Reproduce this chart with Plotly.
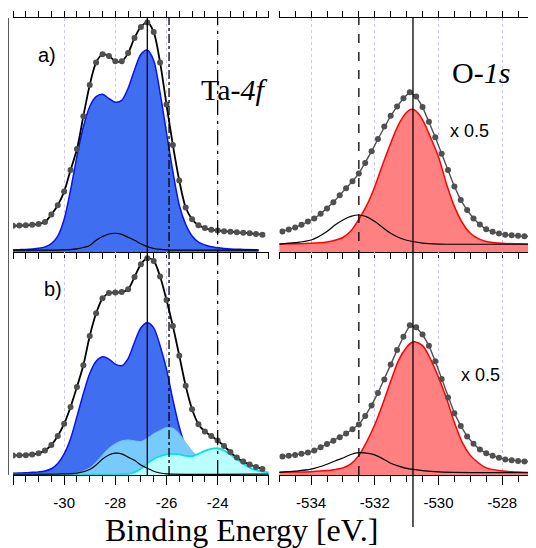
import plotly.graph_objects as go

# ---------------- data (intensities normalised) ----------------
# Ta-4f panel a)
ta_a_x = [-32.0, -31.75, -31.5, -31.25, -31.0, -30.75, -30.5, -30.25, -30.0, -29.75,
          -29.5, -29.25, -29.0, -28.75, -28.5, -28.25, -28.0, -27.75, -27.5, -27.25,
          -27.0, -26.75, -26.5, -26.25, -26.0, -25.75, -25.5, -25.25, -25.0, -24.75,
          -24.5, -24.25, -24.0, -23.75, -23.5, -23.25, -23.0, -22.75, -22.5, -22.25]
ta_a_data = [0.112, 0.113, 0.114, 0.116, 0.120, 0.128, 0.160, 0.200, 0.258, 0.350,
             0.440, 0.580, 0.714, 0.810, 0.845, 0.838, 0.815, 0.815, 0.850, 0.915,
             0.962, 0.981, 0.940, 0.810, 0.630, 0.457, 0.305, 0.190, 0.140, 0.114,
             0.102, 0.095, 0.092, 0.089, 0.087, 0.084, 0.082, 0.080, 0.077, 0.074]
ta_main_x = [-32.0, -31.75, -31.5, -31.25, -31.0, -30.75, -30.5, -30.25, -30.0, -29.75,
             -29.5, -29.25, -29.0, -28.75, -28.5, -28.25, -28.0, -27.75, -27.5, -27.25,
             -27.0, -26.75, -26.5, -26.25, -26.0, -25.75, -25.5, -25.25, -25.0, -24.75,
             -24.5, -24.25, -24.0, -23.75, -23.5, -23.0, -22.4]
ta_a_main = [0.009, 0.010, 0.011, 0.013, 0.016, 0.022, 0.036, 0.068, 0.140, 0.265,
             0.410, 0.535, 0.622, 0.664, 0.674, 0.656, 0.640, 0.648, 0.700, 0.778,
             0.845, 0.863, 0.818, 0.680, 0.510, 0.343, 0.200, 0.118, 0.068, 0.042,
             0.030, 0.022, 0.018, 0.015, 0.013, 0.011, 0.009]
ta_small_x = [-32.0, -30.5, -30.0, -29.75, -29.5, -29.25, -29.0, -28.75, -28.5, -28.25,
              -28.0, -27.75, -27.5, -27.25, -27.0, -26.75, -26.5, -26.25, -26.0, -25.5, -22.4]
ta_a_small = [0.008, 0.008, 0.009, 0.010, 0.013, 0.019, 0.028, 0.050, 0.066, 0.077,
              0.080, 0.075, 0.063, 0.050, 0.035, 0.023, 0.015, 0.011, 0.009, 0.008, 0.008]

# Ta-4f panel b)
ta_b_data = [0.087, 0.088, 0.089, 0.092, 0.098, 0.110, 0.135, 0.175, 0.230, 0.305,
             0.395, 0.492, 0.623, 0.725, 0.792, 0.816, 0.818, 0.820, 0.833, 0.888,
             0.945, 0.972, 0.960, 0.890, 0.785, 0.668, 0.535, 0.400, 0.295, 0.228,
             0.195, 0.175, 0.155, 0.130, 0.103, 0.078, 0.060, 0.047, 0.036, 0.027]
ta_b_main_x = [-32.0, -31.75, -31.5, -31.25, -31.0, -30.75, -30.5, -30.25, -30.0, -29.75,
               -29.5, -29.25, -29.0, -28.75, -28.5, -28.25, -28.0, -27.75, -27.5, -27.25,
               -27.0, -26.75, -26.5, -26.25, -26.0, -25.75, -25.5, -25.25, -25.0, -24.75,
               -24.5, -24.0, -23.5, -22.4]
ta_b_main = [0.008, 0.009, 0.010, 0.012, 0.014, 0.018, 0.028, 0.052, 0.095, 0.163,
             0.262, 0.365, 0.455, 0.510, 0.530, 0.520, 0.497, 0.490, 0.522, 0.595,
             0.660, 0.683, 0.660, 0.580, 0.475, 0.338, 0.215, 0.125, 0.070, 0.042,
             0.028, 0.017, 0.012, 0.008]
ta_b_sub_x = [-32.0, -29.75, -29.5, -29.25, -29.0, -28.75, -28.5, -28.25, -28.0, -27.75,
              -27.5, -27.25, -27.0, -26.75, -26.5, -26.25, -26.0, -25.75, -25.5, -25.25,
              -25.0, -24.75, -24.5, -24.25, -24.0, -23.5, -23.0, -22.4]
ta_b_sub = [0.005, 0.006, 0.010, 0.018, 0.032, 0.058, 0.090, 0.120, 0.140, 0.153,
            0.157, 0.153, 0.150, 0.165, 0.185, 0.200, 0.213, 0.210, 0.185, 0.145,
            0.108, 0.078, 0.055, 0.038, 0.026, 0.014, 0.009, 0.006]
ta_b_low_x = [-32.0, -27.5, -27.25, -27.0, -26.75, -26.5, -26.25, -26.0, -25.75, -25.5,
              -25.25, -25.0, -24.75, -24.5, -24.25, -24.0, -23.75, -23.5, -23.25, -23.0,
              -22.75, -22.5, -22.25, -22.0]
ta_b_low = [0.004, 0.005, 0.012, 0.028, 0.052, 0.072, 0.084, 0.092, 0.095, 0.092,
            0.086, 0.084, 0.095, 0.108, 0.117, 0.120, 0.110, 0.092, 0.070, 0.050,
            0.033, 0.022, 0.015, 0.012]
ta_b_small_x = [-32.0, -30.0, -29.5, -29.0, -28.75, -28.5, -28.25, -28.0, -27.75, -27.5,
                -27.25, -27.0, -26.75, -26.5, -26.25, -26.0, -22.0]
ta_b_small = [0.004, 0.005, 0.008, 0.025, 0.045, 0.072, 0.090, 0.098, 0.095, 0.080,
              0.066, 0.045, 0.030, 0.017, 0.009, 0.005, 0.004]

# O-1s panels
o_x = [-534.9, -534.7, -534.5, -534.3, -534.1, -533.9, -533.7, -533.5, -533.3, -533.1,
       -532.9, -532.7, -532.5, -532.3, -532.1, -531.9, -531.7, -531.5, -531.3, -531.1,
       -530.9, -530.7, -530.5, -530.3, -530.1, -529.9, -529.7, -529.5, -529.3, -529.1,
       -528.9, -528.7, -528.5, -528.3, -528.1, -527.9, -527.7, -527.5, -527.3, -527.1]
o_a_data = [0.088, 0.096, 0.105, 0.116, 0.130, 0.143, 0.163, 0.186, 0.213, 0.243,
            0.272, 0.302, 0.335, 0.380, 0.430, 0.483, 0.536, 0.582, 0.622, 0.657,
            0.683, 0.665, 0.620, 0.557, 0.490, 0.420, 0.350, 0.280, 0.222, 0.179,
            0.143, 0.117, 0.097, 0.086, 0.079, 0.074, 0.071, 0.069, 0.067, 0.066]
o_b_data = [0.083, 0.086, 0.090, 0.095, 0.101, 0.110, 0.124, 0.139, 0.154, 0.169,
            0.186, 0.205, 0.226, 0.265, 0.312, 0.368, 0.428, 0.495, 0.560, 0.620,
            0.671, 0.662, 0.630, 0.580, 0.510, 0.430, 0.348, 0.277, 0.220, 0.173,
            0.140, 0.114, 0.098, 0.086, 0.077, 0.070, 0.066, 0.063, 0.061, 0.060]
o_main_x = [-535.0, -534.5, -534.0, -533.5, -533.25, -533.0, -532.75, -532.5, -532.25, -532.0,
            -531.75, -531.5, -531.25, -531.0, -530.85, -530.75, -530.5, -530.25, -530.0, -529.75,
            -529.5, -529.25, -529.0, -528.75, -528.5, -528.0, -527.5, -527.0]
o_a_main = [0.034, 0.035, 0.037, 0.043, 0.050, 0.062, 0.090, 0.140, 0.200, 0.279,
            0.375, 0.465, 0.545, 0.597, 0.610, 0.607, 0.565, 0.490, 0.407, 0.292,
            0.195, 0.125, 0.080, 0.057, 0.045, 0.037, 0.035, 0.034]
o_b_main = [0.012, 0.013, 0.015, 0.020, 0.025, 0.032, 0.050, 0.088, 0.150, 0.225,
            0.318, 0.420, 0.515, 0.573, 0.593, 0.598, 0.580, 0.520, 0.438, 0.345,
            0.235, 0.145, 0.088, 0.055, 0.032, 0.018, 0.013, 0.010]
o_small_x = [-535.0, -534.5, -534.0, -533.5, -533.25, -533.0, -532.75, -532.5, -532.25, -532.0,
             -531.75, -531.5, -531.25, -531.0, -530.5, -530.0, -529.0, -527.0]
o_a_small = [0.034, 0.040, 0.051, 0.088, 0.115, 0.137, 0.152, 0.158, 0.150, 0.130,
             0.105, 0.080, 0.062, 0.050, 0.038, 0.034, 0.033, 0.033]
o_b_small = [0.012, 0.017, 0.026, 0.048, 0.063, 0.076, 0.092, 0.100, 0.098, 0.090,
             0.073, 0.053, 0.040, 0.030, 0.020, 0.014, 0.011, 0.010]

ta_lines = [(-26.75, "solid"), (-25.9, "dashdot"), (-24.0, "longdashdot")]
o_lines = [(-532.5, "dash"), (-530.8, "solid")]

# ---------------- styles ----------------
BLUE_FILL = "rgb(64,110,240)"
BLUE_LINE = "rgb(10,20,230)"
SKY_FILL = "rgb(120,202,250)"
CYAN_FILL = "rgb(185,255,255)"
CYAN_LINE = "rgb(0,225,240)"
RED_FILL = "rgb(255,128,128)"
RED_LINE = "rgb(255,0,0)"
DOT = "rgb(80,80,80)"

fig = go.Figure()

def fill(x, y, xa, ya, fc, lc, w=1.5):
    fig.add_trace(go.Scatter(x=x, y=y, xaxis=xa, yaxis=ya, mode="lines", fill="tozeroy",
                             fillcolor=fc, line=dict(color=lc, width=w, shape="spline", smoothing=0.8),
                             hoverinfo="skip"))

def line(x, y, xa, ya, c="black", w=1.2):
    fig.add_trace(go.Scatter(x=x, y=y, xaxis=xa, yaxis=ya, mode="lines",
                             line=dict(color=c, width=w, shape="spline", smoothing=0.8), hoverinfo="skip"))

def data(x, y, xa, ya, lc, lw, smooth):
    fig.add_trace(go.Scatter(x=x, y=y, xaxis=xa, yaxis=ya, mode="lines+markers",
                             line=dict(color=lc, width=lw, shape="spline" if smooth else "linear",
                                       smoothing=0.8),
                             marker=dict(color=DOT, size=6), hoverinfo="skip"))

# top-left
fill(ta_main_x, ta_a_main, "x", "y", BLUE_FILL, BLUE_LINE)
line(ta_small_x, ta_a_small, "x", "y")
data(ta_a_x, ta_a_data, "x", "y", "black", 1.8, True)
# top-right
fill(o_main_x, o_a_main, "x2", "y2", RED_FILL, RED_LINE)
line(o_small_x, o_a_small, "x2", "y2")
data(o_x, o_a_data, "x2", "y2", DOT, 1.4, False)
# bottom-left
fill(ta_b_main_x, ta_b_main, "x3", "y3", BLUE_FILL, BLUE_LINE)
fill(ta_b_sub_x, ta_b_sub, "x3", "y3", SKY_FILL, "rgb(110,195,248)", 1.0)
fill(ta_b_low_x, ta_b_low, "x3", "y3", CYAN_FILL, CYAN_LINE, 1.8)
line(ta_b_small_x, ta_b_small, "x3", "y3")
data(ta_a_x, ta_b_data, "x3", "y3", "black", 1.8, True)
# bottom-right
fill(o_main_x, o_b_main, "x4", "y4", RED_FILL, RED_LINE)
line(o_small_x, o_b_small, "x4", "y4")
data(o_x, o_b_data, "x4", "y4", DOT, 1.4, False)

# page body has an 8px margin: size the figure so the plot lands where the reference has it
OFF = 8
W, H = 536 - OFF, 548 - OFF
ML, MR, MT, MB = 13 - OFF, 2, 18 - OFF, 73
PW, PH = W - ML - MR, H - MT - MB
LEFT_DOM = [0, 0.491]
RIGHT_DOM = [0.511, 1]
TOP_DOM = [0.488, 1]
BOT_DOM = [0, 0.488]

tick_font = dict(family="Arial, Liberation Sans, sans-serif", size=15, color="black")

def xax(dom, rng, t0, labels, top, anchor):
    major = list(range(int(t0), int(rng[1]) + 1, 2))
    d = dict(domain=dom, range=rng, anchor=anchor, showline=True, linecolor="black", linewidth=1.3,
             ticks="outside", ticklen=9, tickwidth=1.2, tickcolor="black",
             tickvals=major, ticktext=[str(v) if v in labels else "" for v in major],
             showticklabels=not top, tickfont=tick_font, ticklabelstandoff=5,
             showgrid=True, gridcolor="rgb(200,200,235)", griddash="dot", gridwidth=1,
             zeroline=False, mirror="ticks" if top else False,
             minor=dict(dtick=0.5, tick0=rng[0], ticks="outside", ticklen=6, tickwidth=1.1,
                        tickcolor="black", showgrid=False))
    return d

def yax(dom, anchor):
    return dict(domain=dom, range=[0, 1], anchor=anchor, visible=False, fixedrange=True)

fig.update_layout(
    width=W, height=H, margin=dict(l=ML, r=MR, t=MT, b=MB, autoexpand=False),
    paper_bgcolor="white", plot_bgcolor="white", showlegend=False,
    xaxis=xax(LEFT_DOM, [-32, -22], -32, [], True, "y"),
    yaxis=yax(TOP_DOM, "x"),
    xaxis2=xax(RIGHT_DOM, [-535, -527], -534, [], True, "y2"),
    yaxis2=yax(TOP_DOM, "x2"),
    xaxis3=xax(LEFT_DOM, [-32, -22], -32, [-30, -28, -26, -24], False, "y3"),
    yaxis3=yax(BOT_DOM, "x3"),
    xaxis4=xax(RIGHT_DOM, [-535, -527], -534, [-534, -532, -530, -528], False, "y4"),
    yaxis4=yax(BOT_DOM, "x4"),
)

shapes = []
# left vertical frame line
shapes.append(dict(type="line", xref="paper", yref="paper", x0=-5 / PW, x1=-5 / PW, y0=0, y1=1,
                   line=dict(color="black", width=1.3)))
for xv, ds in ta_lines:
    shapes.append(dict(type="line", xref="x", yref="paper", x0=xv, x1=xv, y0=0, y1=1,
                       line=dict(color="black", width=1.3, dash=ds)))
for xv, ds in o_lines:
    shapes.append(dict(type="line", xref="x2", yref="paper", x0=xv, x1=xv,
                       y0=(-52 / PH) if ds == "solid" else 0, y1=1,
                       line=dict(color="black", width=1.3, dash=ds)))
fig.update_layout(shapes=shapes)

# positions given in reference-page pixels
def px(xp):
    return (xp - 13) / PW

def py(yp):
    return (475 - yp) / PH

serif = "Liberation Serif, Times New Roman, serif"
sans = "Arial, Liberation Sans, sans-serif"
ann = [
    dict(text="a)", x=px(47), y=py(55), font=dict(family=sans, size=20)),
    dict(text="b)", x=px(53), y=py(289), font=dict(family=sans, size=20)),
    dict(text="Ta-<i>4f</i>", x=px(234), y=py(90), font=dict(family=serif, size=30)),
    dict(text="O-<i>1s</i>", x=px(481), y=py(73), font=dict(family=serif, size=30)),
    dict(text="x 0.5", x=px(469), y=py(131), font=dict(family=sans, size=18)),
    dict(text="x 0.5", x=px(480), y=py(375), font=dict(family=sans, size=18)),
    dict(text="Binding Energy [eV.]", x=px(241), y=py(530), font=dict(family=serif, size=32)),
]
for a in ann:
    a.update(xref="paper", yref="paper", showarrow=False, xanchor="center", yanchor="middle")
    a["font"]["color"] = "black"
fig.update_layout(annotations=ann)

fig.write_html("out.html")
